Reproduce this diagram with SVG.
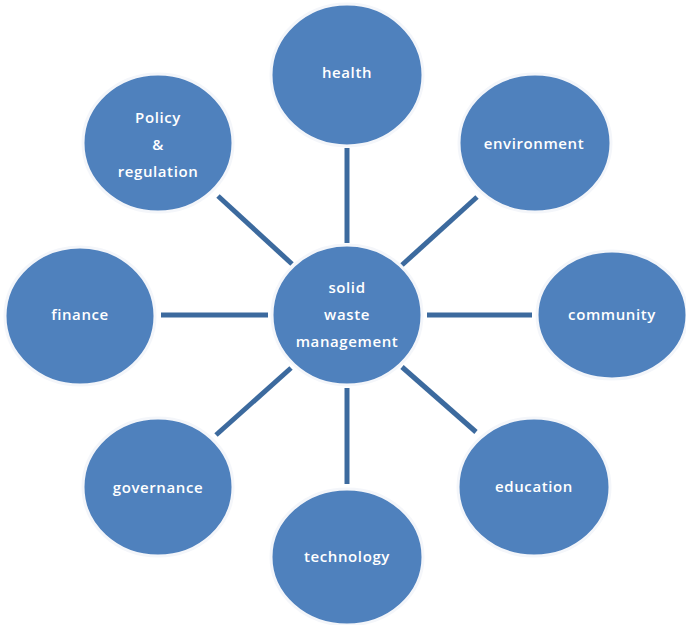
<svg xmlns="http://www.w3.org/2000/svg" width="686" height="625" viewBox="0 0 686 625">
<style>
.n{fill:#4F81BD;stroke:#f4f6fa;stroke-width:3}
.t{fill:#ffffff;font-family:"Open Sans","Liberation Sans",sans-serif;font-size:15px;font-weight:600;letter-spacing:0.6px;text-anchor:middle}
.c{stroke:#3C6A9E;stroke-width:5;stroke-linecap:butt;fill:none}
</style>
<rect width="686" height="625" fill="#ffffff"/>
<g id="connectors">
<line class="c" x1="347" y1="148" x2="347" y2="243"/>
<line class="c" x1="218" y1="196" x2="292" y2="264"/>
<line class="c" x1="477" y1="197" x2="402" y2="265"/>
<line class="c" x1="161" y1="315" x2="268" y2="315"/>
<line class="c" x1="427" y1="315" x2="532" y2="315"/>
<line class="c" x1="216" y1="435" x2="291" y2="368"/>
<line class="c" x1="347" y1="388" x2="347" y2="484"/>
<line class="c" x1="402" y1="367" x2="476" y2="432"/>
</g>
<g id="center"><ellipse class="n" cx="347" cy="315" rx="75" ry="70"/>
<text class="t" x="347" y="293">solid</text><text class="t" x="347" y="320">waste</text><text class="t" x="347" y="347">management</text></g>
<g id="health"><ellipse class="n" cx="347" cy="75" rx="76" ry="71"/><text class="t" x="347" y="78">health</text></g>
<g id="policy"><ellipse class="n" cx="158" cy="143" rx="75" ry="69"/>
<text class="t" x="158" y="123">Policy</text><text class="t" x="158" y="150">&amp;</text><text class="t" x="158" y="177">regulation</text></g>
<g id="environment"><ellipse class="n" cx="535" cy="143" rx="76" ry="69"/><text class="t" x="534" y="149">environment</text></g>
<g id="finance"><ellipse class="n" cx="80" cy="316" rx="75" ry="69"/><text class="t" x="80" y="320">finance</text></g>
<g id="community"><ellipse class="n" cx="612" cy="315" rx="75" ry="64"/><text class="t" x="612" y="320">community</text></g>
<g id="governance"><ellipse class="n" cx="158" cy="487" rx="75" ry="69"/><text class="t" x="158" y="493">governance</text></g>
<g id="education"><ellipse class="n" cx="534" cy="487" rx="76" ry="69"/><text class="t" x="534" y="492">education</text></g>
<g id="technology"><ellipse class="n" cx="347" cy="557" rx="76" ry="68"/><text class="t" x="347" y="562">technology</text></g>
</svg>
